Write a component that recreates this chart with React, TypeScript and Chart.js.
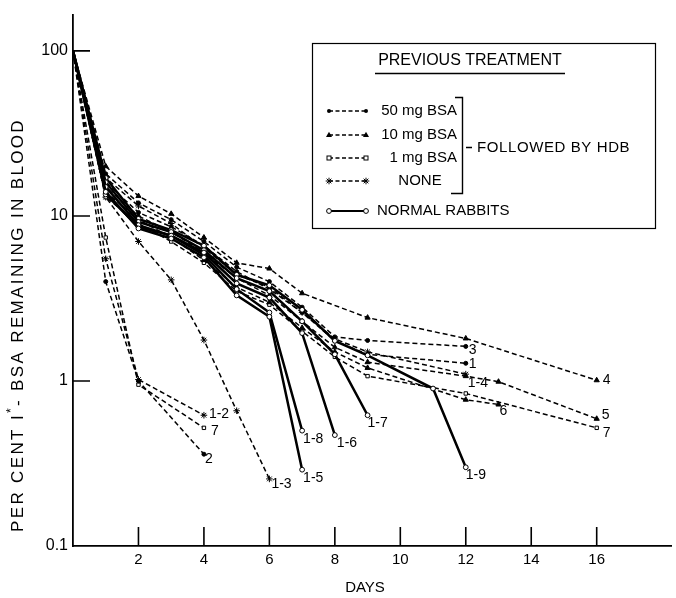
import React, { useEffect, useRef } from "react";
import { Chart, registerables } from "chart.js";

Chart.register(...registerables);

const FONT = '"Liberation Sans", Arial, sans-serif';

const X_TICKS = [2, 4, 6, 8, 10, 12, 14, 16];
const Y_TICKS = [0.1, 1, 10, 100];
const X_MAX = 18.27;
const Y_MIN = 0.1;
const Y_MAX = 166;

// ---- series data (days, per cent remaining) ----
const S1_DAYS = [0, 1, 2, 3, 4, 5, 6, 7, 8, 9, 12];
const S1_VALS = [100, 16, 10.5, 8.6, 6.6, 4.6, 3.6, 2.6, 1.75, 1.45, 1.28];
const S2_DAYS = [0, 1, 2, 4];
const S2_VALS = [100, 4.0, 1.0, 0.36];
const S3_DAYS = [0, 1, 2, 3, 4, 5, 6, 7, 8, 9, 12];
const S3_VALS = [100, 18, 12, 9.5, 7.0, 4.9, 4.0, 2.8, 1.85, 1.76, 1.62];
const S4_DAYS = [0, 1, 2, 3, 4, 5, 6, 7, 9, 12, 16];
const S4_VALS = [100, 20, 13.2, 10.3, 7.4, 5.2, 4.8, 3.4, 2.42, 1.81, 1.01];
const S5_DAYS = [0, 1, 2, 3, 4, 5, 6, 7, 8, 9, 12, 13, 16];
const S5_VALS = [100, 15, 10, 8.0, 6.0, 4.2, 3.3, 2.3, 1.6, 1.3, 1.07, 0.99, 0.59];
const S6_DAYS = [0, 1, 2, 3, 4, 5, 6, 7, 8, 9, 12, 13];
const S6_VALS = [100, 14, 9.5, 7.4, 5.4, 3.7, 3.0, 2.1, 1.5, 1.2, 0.77, 0.72];
const S7_DAYS = [0, 1, 2, 3, 4, 5, 6, 7, 8, 9, 12, 16];
const S7_VALS = [100, 13, 9.0, 7.0, 5.2, 3.5, 2.9, 2.0, 1.4, 1.07, 0.84, 0.52];
const S7B_DAYS = [0, 1, 2, 4];
const S7B_VALS = [100, 7.4, 0.95, 0.52];
const N12_DAYS = [0, 1, 2, 4];
const N12_VALS = [100, 5.5, 1.02, 0.62];
const N13_DAYS = [0, 1, 2, 3, 4, 5, 6];
const N13_VALS = [100, 13, 7.0, 4.1, 1.77, 0.66, 0.255];
const N14_DAYS = [0, 1, 2, 3, 4, 5, 6, 7, 8, 9, 12];
const N14_VALS = [100, 17, 11.5, 9.0, 6.4, 4.4, 3.7, 2.6, 1.8, 1.5, 1.1];
const R15_DAYS = [0, 1, 2, 3, 4, 5, 6, 7];
const R15_VALS = [100, 14, 8.4, 7.3, 5.6, 3.3, 2.45, 0.29];
const R16_DAYS = [0, 1, 2, 3, 4, 5, 6, 7, 8];
const R16_VALS = [100, 15, 8.8, 7.6, 6.0, 3.9, 3.2, 1.95, 0.47];
const R17_DAYS = [0, 1, 2, 3, 4, 5, 6, 7, 8, 9];
const R17_VALS = [100, 16, 9.2, 8.0, 6.2, 4.2, 3.5, 2.3, 1.45, 0.62];
const R18_DAYS = [0, 1, 2, 3, 4, 5, 6, 7];
const R18_VALS = [100, 13.5, 8.6, 7.6, 5.8, 3.6, 2.6, 0.5];
const R19_DAYS = [0, 1, 2, 3, 4, 5, 6, 7, 8, 9, 11, 12];
const R19_VALS = [100, 17, 9.6, 8.2, 6.6, 4.4, 3.8, 2.7, 1.75, 1.43, 0.9, 0.3];

type Marker = "dot" | "tri" | "sq" | "star" | "circ";

const SERIES: { label: string; days: number[]; vals: number[]; marker: Marker; solid: boolean }[] = [
  { label: "1", days: S1_DAYS, vals: S1_VALS, marker: "dot", solid: false },
  { label: "2", days: S2_DAYS, vals: S2_VALS, marker: "dot", solid: false },
  { label: "3", days: S3_DAYS, vals: S3_VALS, marker: "dot", solid: false },
  { label: "4", days: S4_DAYS, vals: S4_VALS, marker: "tri", solid: false },
  { label: "5", days: S5_DAYS, vals: S5_VALS, marker: "tri", solid: false },
  { label: "6", days: S6_DAYS, vals: S6_VALS, marker: "tri", solid: false },
  { label: "7", days: S7_DAYS, vals: S7_VALS, marker: "sq", solid: false },
  { label: "7", days: S7B_DAYS, vals: S7B_VALS, marker: "sq", solid: false },
  { label: "1-2", days: N12_DAYS, vals: N12_VALS, marker: "star", solid: false },
  { label: "1-3", days: N13_DAYS, vals: N13_VALS, marker: "star", solid: false },
  { label: "1-4", days: N14_DAYS, vals: N14_VALS, marker: "star", solid: false },
  { label: "1-5", days: R15_DAYS, vals: R15_VALS, marker: "circ", solid: true },
  { label: "1-6", days: R16_DAYS, vals: R16_VALS, marker: "circ", solid: true },
  { label: "1-7", days: R17_DAYS, vals: R17_VALS, marker: "circ", solid: true },
  { label: "1-8", days: R18_DAYS, vals: R18_VALS, marker: "circ", solid: true },
  { label: "1-9", days: R19_DAYS, vals: R19_VALS, marker: "circ", solid: true },
];

// end-label offsets (style), same order as SERIES
const LABEL_OFFSETS: [number, number][] = [
  [3, 1], [1, 5], [3, 4], [6, 0], [5, -4], [1, 7], [6, 5], [7, 3],
  [5, -1], [2, 5], [2, 9], [1, 8], [2, 8], [0, 8], [1, 8], [0, 8],
];

const LEGEND_ITEMS: { text: string; marker: Marker; solid: boolean }[] = [
  { text: "50 mg BSA", marker: "dot", solid: false },
  { text: "10 mg BSA", marker: "tri", solid: false },
  { text: "1 mg BSA", marker: "sq", solid: false },
  { text: "NONE", marker: "star", solid: false },
  { text: "NORMAL RABBITS", marker: "circ", solid: true },
];
const LEGEND_TITLE = "PREVIOUS TREATMENT";
const LEGEND_BRACKET = "FOLLOWED BY HDB";
const X_TITLE = "DAYS";

function drawMarker(ctx: CanvasRenderingContext2D, kind: Marker, x: number, y: number) {
  ctx.save();
  ctx.setLineDash([]);
  ctx.lineWidth = 1;
  ctx.strokeStyle = "#000";
  ctx.fillStyle = "#000";
  if (kind === "dot") {
    ctx.beginPath();
    ctx.arc(x, y, 2, 0, Math.PI * 2);
    ctx.fill();
  } else if (kind === "tri") {
    ctx.beginPath();
    ctx.moveTo(x, y - 3.2);
    ctx.lineTo(x + 3, y + 2);
    ctx.lineTo(x - 3, y + 2);
    ctx.closePath();
    ctx.fill();
  } else if (kind === "sq") {
    ctx.fillStyle = "#fff";
    ctx.fillRect(x - 2, y - 2, 4, 4);
    ctx.strokeRect(x - 2, y - 2, 4, 4);
  } else if (kind === "star") {
    ctx.beginPath();
    for (let a = 0; a < 4; a++) {
      const t = (a * Math.PI) / 4;
      ctx.moveTo(x - 3.3 * Math.cos(t), y - 3.3 * Math.sin(t));
      ctx.lineTo(x + 3.3 * Math.cos(t), y + 3.3 * Math.sin(t));
    }
    ctx.stroke();
  } else {
    ctx.fillStyle = "#fff";
    ctx.beginPath();
    ctx.arc(x, y, 2.4, 0, Math.PI * 2);
    ctx.fill();
    ctx.stroke();
  }
  ctx.restore();
}

const POINT_STYLE: Record<Marker, string> = {
  dot: "circle",
  tri: "triangle",
  sq: "rect",
  star: "star",
  circ: "circle",
};
const POINT_RADIUS: Record<Marker, number> = { dot: 2, tri: 3, sq: 2.4, star: 3.3, circ: 2.4 };
const POINT_FILL: Record<Marker, string> = { dot: "#000", tri: "#000", sq: "#fff", star: "#000", circ: "#fff" };

const overlayPlugin = {
  id: "overlay",
  afterDraw(chart: any) {
    const ctx: CanvasRenderingContext2D = chart.ctx;
    const xs = chart.scales.x;
    const ys = chart.scales.y;
    const area = chart.chartArea;
    ctx.save();
    ctx.strokeStyle = "#000";
    ctx.fillStyle = "#000";
    ctx.lineWidth = 1.6;
    ctx.setLineDash([]);
    // inward tick marks
    ctx.beginPath();
    X_TICKS.forEach((v) => {
      const px = xs.getPixelForValue(v);
      ctx.moveTo(px, area.bottom);
      ctx.lineTo(px, area.bottom - 19);
    });
    Y_TICKS.filter((v) => v > Y_MIN).forEach((v) => {
      const py = ys.getPixelForValue(v);
      ctx.moveTo(area.left, py);
      ctx.lineTo(area.left + 17, py);
    });
    ctx.stroke();

    // end labels
    ctx.font = `14px ${FONT}`;
    ctx.textAlign = "left";
    ctx.textBaseline = "middle";
    SERIES.forEach((s, i) => {
      const n = s.days.length - 1;
      const px = xs.getPixelForValue(s.days[n]);
      const py = ys.getPixelForValue(s.vals[n]);
      const [dx, dy] = LABEL_OFFSETS[i];
      ctx.fillText(s.label, px + dx, py + dy);
    });

    // legend box
    ctx.lineWidth = 1.2;
    ctx.fillStyle = "#fff";
    ctx.fillRect(312, 43, 343, 185);
    ctx.strokeRect(312.5, 43.5, 343, 185);
    ctx.fillStyle = "#000";
    ctx.font = `16px ${FONT}`;
    ctx.textAlign = "center";
    ctx.fillText(LEGEND_TITLE, 470, 61);
    ctx.lineWidth = 1.6;
    ctx.beginPath();
    ctx.moveTo(375, 73.5);
    ctx.lineTo(565, 73.5);
    ctx.stroke();

    const rowsY = [111, 135, 158, 181, 211];
    ctx.font = `15px ${FONT}`;
    LEGEND_ITEMS.forEach((it, i) => {
      const y = rowsY[i];
      ctx.save();
      ctx.lineWidth = it.solid ? 2.2 : 1.3;
      ctx.setLineDash(it.solid ? [] : [4, 2.5]);
      ctx.beginPath();
      ctx.moveTo(329, y);
      ctx.lineTo(366, y);
      ctx.stroke();
      ctx.restore();
      drawMarker(ctx, it.marker, 329, y);
      drawMarker(ctx, it.marker, 366, y);
      if (i < 3) {
        ctx.textAlign = "right";
        ctx.fillText(it.text, 457, y);
      } else if (i === 3) {
        ctx.textAlign = "center";
        ctx.fillText(it.text, 420, y);
      } else {
        ctx.textAlign = "left";
        ctx.fillText(it.text, 377, y);
      }
    });
    // bracket
    ctx.lineWidth = 1.4;
    ctx.beginPath();
    ctx.moveTo(455, 97.5);
    ctx.lineTo(462.5, 97.5);
    ctx.lineTo(462.5, 193.5);
    ctx.lineTo(451, 193.5);
    ctx.moveTo(466, 147.5);
    ctx.lineTo(472, 147.5);
    ctx.stroke();
    ctx.textAlign = "left";
    ctx.font = `15px ${FONT}`;
    (ctx as any).letterSpacing = "0.6px";
    ctx.fillText(LEGEND_BRACKET, 477, 148);
    (ctx as any).letterSpacing = "0px";

    // x title
    ctx.font = `15px ${FONT}`;
    ctx.textAlign = "center";
    ctx.fillText(X_TITLE, 365, 588);

    // y title with superscript
    ctx.save();
    ctx.translate(18, 325);
    ctx.rotate(-Math.PI / 2);
    const parts: [string, string, number][] = [
      ["PER CENT I", `17px ${FONT}`, 0],
      ["*", `12px ${FONT}`, -6],
      ["- BSA REMAINING IN BLOOD", `17px ${FONT}`, 0],
    ];
    let w0 = 0;
    let nChars = 0;
    parts.forEach(([t, f]) => {
      ctx.font = f;
      w0 += ctx.measureText(t).width;
      nChars += t.length;
    });
    const target = 414;
    const ls = Math.max(0, (target - w0) / nChars);
    (ctx as any).letterSpacing = `${ls}px`;
    ctx.textAlign = "left";
    ctx.textBaseline = "middle";
    let cx = -target / 2;
    parts.forEach(([t, f, dy]) => {
      ctx.font = f;
      ctx.fillText(t, cx, dy);
      cx += ctx.measureText(t).width;
    });
    ctx.restore();

    ctx.restore();
  },
};

export default function App() {
  const ref = useRef<HTMLCanvasElement | null>(null);
  useEffect(() => {
    if (!ref.current) return;
    const datasets = SERIES.map((s) => ({
      label: s.label,
      data: s.days.map((d, i) => ({ x: d, y: s.vals[i] })),
      showLine: true,
      borderColor: "#000",
      borderWidth: s.solid ? 2.5 : 1.5,
      borderDash: s.solid ? [] : [5, 3],
      pointStyle: POINT_STYLE[s.marker],
      pointRadius: (c: any) => (c.raw && c.raw.x === 0 ? 0 : POINT_RADIUS[s.marker]),
      pointBackgroundColor: POINT_FILL[s.marker],
      pointBorderColor: "#000",
      pointBorderWidth: 1,
      tension: 0,
      order: s.solid ? 0 : 1,
    }));
    const chart = new Chart(ref.current, {
      type: "scatter",
      data: { datasets },
      options: {
        animation: false,
        responsive: false,
        layout: { padding: { top: 9, left: 0, right: 0, bottom: 0 } },
        plugins: { legend: { display: false }, tooltip: { enabled: false } },
        scales: {
          x: {
            type: "linear",
            min: 0,
            max: X_MAX,
            grid: { display: false, drawTicks: false },
            border: { display: true, color: "#000", width: 1.8 },
            afterBuildTicks: (axis: any) => {
              axis.ticks = X_TICKS.map((v) => ({ value: v }));
            },
            afterFit: (scale: any) => {
              scale.height = 52;
            },
            ticks: {
              color: "#000",
              font: { family: FONT, size: 15 },
              padding: 5,
              maxRotation: 0,
              autoSkip: false,
              callback: (v: any) => String(v),
            },
          },
          y: {
            type: "logarithmic",
            min: Y_MIN,
            max: Y_MAX,
            grid: { display: false, drawTicks: false },
            border: { display: true, color: "#000", width: 1.8 },
            afterBuildTicks: (axis: any) => {
              axis.ticks = Y_TICKS.map((v) => ({ value: v }));
            },
            afterFit: (scale: any) => {
              scale.width = 73;
            },
            ticks: {
              color: "#000",
              font: { family: FONT, size: 16 },
              padding: 5,
              autoSkip: false,
              callback: (v: any) => String(v),
            },
          },
        },
      } as any,
      plugins: [overlayPlugin],
    });
    return () => chart.destroy();
  }, []);
  return (
    <div style={{ position: "fixed", left: 0, top: 0, width: 676, height: 598, background: "#fff" }}>
      <canvas ref={ref} width={676} height={598} style={{ width: 676, height: 598 }} />
    </div>
  );
}
